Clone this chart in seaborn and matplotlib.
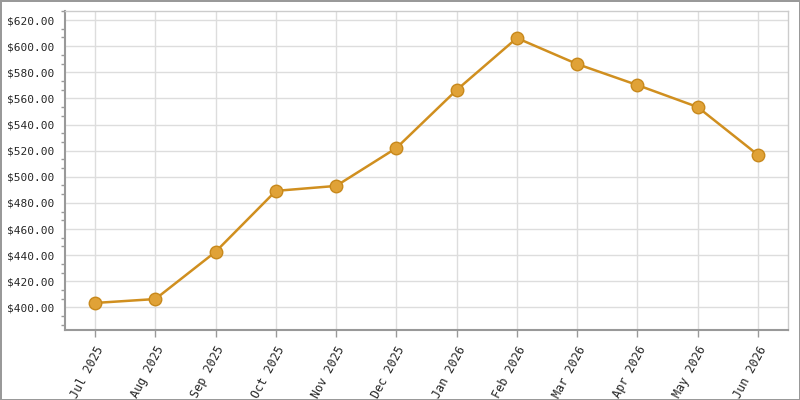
import numpy as np
import pandas as pd
import matplotlib
matplotlib.use('Agg')
import matplotlib.pyplot as plt
from matplotlib.ticker import AutoMinorLocator, FuncFormatter
import seaborn as sns

# chart data
months = ['Jul 2025', 'Aug 2025', 'Sep 2025', 'Oct 2025', 'Nov 2025', 'Dec 2025',
          'Jan 2026', 'Feb 2026', 'Mar 2026', 'Apr 2026', 'May 2026', 'Jun 2026']
prices = [403.4, 406.4, 442.6, 489.2, 493.0, 522.0,
          566.4, 606.2, 586.3, 570.2, 553.4, 516.8]
y_ticks = [400, 420, 440, 460, 480, 500, 520, 540, 560, 580, 600, 620]

df = pd.DataFrame({'pos': np.arange(len(months)), 'price': prices})

sns.set_style('white')
plt.rcParams['font.family'] = ['DejaVu Sans Mono']

fig = plt.figure(figsize=(8, 4), dpi=100, linewidth=2, edgecolor='#999999')
ax = fig.add_axes([65 / 800, 70 / 400, 723 / 800, 319 / 400])

ax.grid(True, color='#dddddd', linewidth=1)
ax.set_axisbelow(True)

sns.lineplot(data=df, x='pos', y='price', ax=ax, color='#d08f1f', linewidth=1.8,
             marker='o', markersize=9, markerfacecolor='#e0a237',
             markeredgecolor='#c8891c', markeredgewidth=1)

ax.set_xlim(-0.5, len(months) - 0.5)
ax.set_ylim(382.7, 626.9)
ax.set_xticks(df['pos'])
ax.set_xticklabels(months, rotation=62, ha='right', rotation_mode='anchor', fontsize=8.5)
ax.set_yticks(y_ticks)
ax.yaxis.set_major_formatter(FuncFormatter(lambda v, p: f'${v:.2f}'))
ax.yaxis.set_minor_locator(AutoMinorLocator(3))
ax.tick_params(axis='y', labelsize=8, length=5, width=1, color='#999999', pad=3)
ax.tick_params(axis='y', which='minor', length=3, width=1, color='#999999', left=True)
ax.tick_params(axis='x', length=5, width=1, color='#999999', pad=5, bottom=True)
ax.set_xlabel('')
ax.set_ylabel('')

for side in ['left', 'bottom']:
    ax.spines[side].set_color('#999999')
    ax.spines[side].set_linewidth(1.5)
for side in ['top', 'right']:
    ax.spines[side].set_color('#cccccc')
    ax.spines[side].set_linewidth(1)

fig.savefig('out.png', dpi=100, edgecolor=fig.get_edgecolor())
